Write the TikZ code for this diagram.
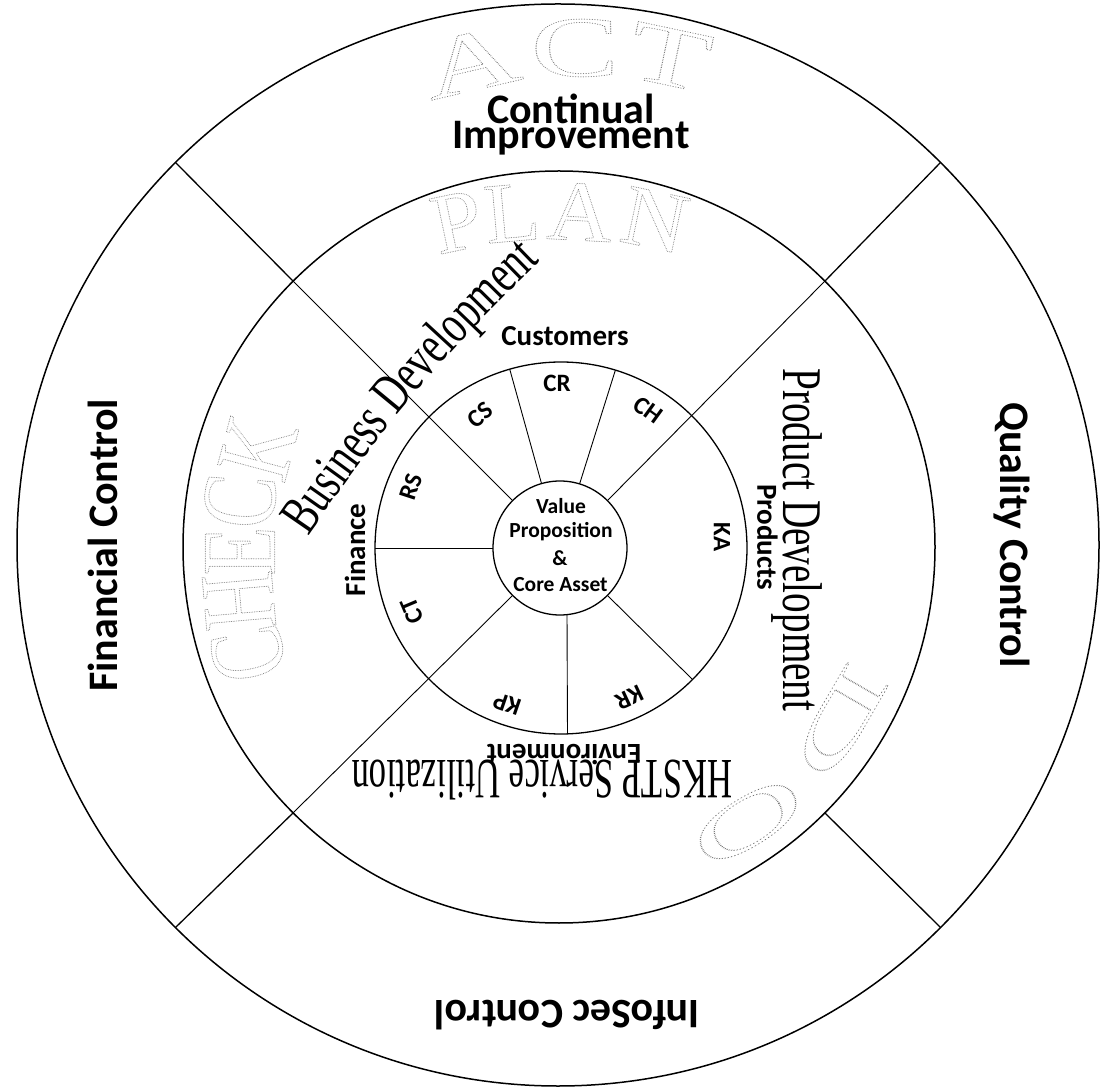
\documentclass[tikz,border=0pt]{standalone}
\usepackage{fontspec}
\usepackage{graphicx}
\setmainfont{Carlito}
\newfontfamily\bizfont[FakeStretch=0.70]{Liberation Serif}
\newfontfamily\hkfont[FakeStretch=0.61]{Liberation Serif}
\newfontfamily\plainserif{Liberation Serif}
\newfontfamily\planfont[FakeStretch=1.05]{Liberation Serif}
\newfontfamily\checkfont[FakeStretch=0.75]{Liberation Serif}
\usetikzlibrary{calc,decorations.text}
\makeatletter
\newcommand{\dotoutline}{\pgfsys@invoke{ 1 Tr 1 J 0.9 w [0 1.7] 0 d 0.45 G }}
\makeatother
\newcommand{\actletter}[1]{\scalebox{1.55}[1]{\plainserif\fontsize{86}{86}\selectfont\dotoutline #1}}
\newcommand{\doletter}[1]{\scalebox{2.3}[1]{\plainserif\fontsize{72}{72}\selectfont\dotoutline #1}}
\tikzset{
  ringline/.style={line width=1.5pt},
  innerring/.style={line width=1.3pt},
  outdiv/.style={line width=1.3pt},
  indiv/.style={line width=0.9pt},
  bigbold/.style={font=\bfseries\fontsize{42}{42}\selectfont, inner sep=0pt},
  midbold/.style={font=\bfseries\fontsize{29}{29}\selectfont, inner sep=0pt},
  segbold/.style={font=\bfseries\fontsize{25}{25}\selectfont, inner sep=0pt},
  corebold/.style={font=\bfseries\fontsize{21.5}{21.5}\selectfont, inner sep=0pt},
  serifbig/.style={font=\bizfont\fontsize{56}{56}\selectfont, inner sep=0pt},
  letterbox/.style={inner sep=0pt},
}
\begin{document}
\begin{tikzpicture}[x=1pt,y=1pt]
\useasboundingbox (0,0) rectangle (1100,1088);
\fill[white] (0,0) rectangle (1100,1088);
% centres
\coordinate (O) at (558,543);
\coordinate (M) at (559,541);
\coordinate (I) at (561,540);
\coordinate (V) at (560,540);
% circles
\draw[ringline] (O) circle (541);
\draw[ringline] (M) circle (376);
\draw[innerring] (I) circle (186);
\draw[innerring] (V) circle (67);
% outer ring dividers
\foreach \a in {45,135,225,315}{
  \draw[outdiv] ($(M)+(\a:376)$) -- ($(O)+(\a:541)$);
}
% middle / inner dividers
\foreach \a in {45,135,225}{
  \draw[indiv] ($(V)+(\a:67)$) -- ($(M)+(\a:376)$);
}
\foreach \a in {-45,106,73,180}{
  \draw[indiv] ($(V)+(\a:67)$) -- ($(I)+(\a:186)$);
}
\draw[indiv] ($(V)+(-84:67)$) -- ($(I)+(-88:186)$);

% outlined PDCA letters
\node[letterbox, rotate=13]  (actA) at (471,1026) {\actletter{A}};
\node[letterbox, rotate=0]   (actC) at (575,1040) {\actletter{C}};
\node[letterbox, rotate=-12] (actT) at (670,1031) {\actletter{T}};

\node[letterbox, rotate=12]  (planP) at (457,866) {\planfont\fontsize{86}{86}\selectfont\dotoutline P};
\node[letterbox, rotate=5]   (planL) at (512,875) {\planfont\fontsize{86}{86}\selectfont\dotoutline L};
\node[letterbox, rotate=-3]  (planA) at (580,876) {\planfont\fontsize{86}{86}\selectfont\dotoutline A};
\node[letterbox, rotate=-12] (planN) at (655,868) {\planfont\fontsize{86}{86}\selectfont\dotoutline N};

\node[letterbox, rotate=102] (chkC) at (248,434) {\checkfont\fontsize{106}{106}\selectfont\dotoutline C};
\node[letterbox, rotate=95]  (chkH) at (239,487) {\checkfont\fontsize{106}{106}\selectfont\dotoutline H};
\node[letterbox, rotate=90]  (chkE) at (240,537) {\checkfont\fontsize{106}{106}\selectfont\dotoutline E};
\node[letterbox, rotate=85]  (chkCC) at (240,587) {\checkfont\fontsize{106}{106}\selectfont\dotoutline C};
\node[letterbox, rotate=75]  (chkK) at (258,640) {\checkfont\fontsize{106}{106}\selectfont\dotoutline K};

\node[letterbox, rotate=-120] (doD) at (840,366) {\doletter{D}};
\node[letterbox, rotate=-148] (doO) at (748,266) {\doletter{O}};

% outer ring labels
\node[bigbold] (ci1) at (571,979) {Continual};
\node[bigbold] (ci2) at (571,949.5) {Improvement};
\node[bigbold, rotate=90] (fc) at (103,542.5) {Financial Control};
\node[bigbold, rotate=-90] (qc) at (1012,553) {Quality Control};
\node[bigbold, rotate=180] (isc) at (567,73) {InfoSec Control};

% middle ring serif labels
\coordinate (bdA) at (302,543);
\coordinate (bdB) at (548,834);
\path[decorate, decoration={text along path, text align=center,
  text={|\bizfont\fontsize{56}{56}\selectfont|Business Development}}]
  (bdA) to[bend left=6] (bdB);
\node[serifbig, rotate=-90] (pd) at (797,548) {Product Development};
\node[font=\hkfont\fontsize{57}{57}\selectfont, inner sep=0pt, rotate=180, anchor=base] (hk) at (542,328) {HKSTP Service Utilization};

% inner ring group labels
\node[midbold] (cust) at (565,752) {Customers};
\node[midbold, rotate=90] (fin) at (355,538) {Finance};
\node[midbold, rotate=-90] (prod) at (767.5,551) {Products};
\node[midbold, rotate=180] (env) at (564,333) {Environment};

% segment labels
\node[segbold] (cr) at (557,705) {CR};
\node[segbold, rotate=38] (cs) at (480,673) {CS};
\node[segbold, rotate=-36] (ch) at (648,678) {CH};
\node[segbold, rotate=-90] (ka) at (722,551) {KA};
\node[segbold, rotate=72] (rs) at (411,601) {RS};
\node[segbold, rotate=113] (ct) at (412,477) {CT};
\node[segbold, rotate=161] (kp) at (507,384) {KP};
\node[segbold, rotate=205] (kr) at (629,390) {KR};

% core
\node[corebold] (vp1) at (561,581.5) {Value};
\node[corebold] (vp2) at (561,556) {Proposition};
\node[corebold] (vp3) at (560,529.5) {\&};
\node[corebold] (vp4) at (560.5,503.5) {Core Asset};
\end{tikzpicture}
\end{document}
